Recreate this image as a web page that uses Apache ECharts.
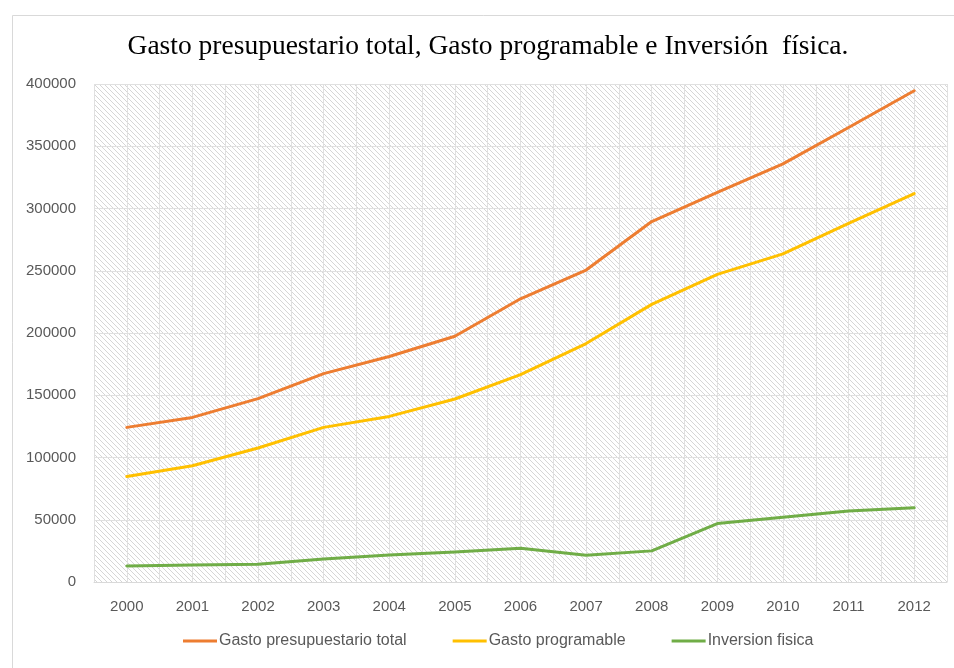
<!DOCTYPE html>
<html>
<head>
<meta charset="utf-8">
<script src="https://cdn.jsdelivr.net/npm/echarts@6/dist/echarts.min.js"></script>
<style>html,body{margin:0;padding:0;background:#fff}#c{width:954px;height:668px}</style>
</head>
<body>
<div id="c"></div>
<script>
var titleText = 'Gasto presupuestario total, Gasto programable e Inversión  física.';
var years = ['2000','2001','2002','2003','2004','2005','2006','2007','2008','2009','2010','2011','2012'];
var gastoTotal = [124200, 132200, 147300, 167400, 181100, 197400, 227500, 250600, 289500, 313000, 335800, 365100, 394600];
var gastoProgramable = [84800, 93400, 107600, 124200, 133000, 147000, 166600, 191500, 223000, 247100, 263500, 288100, 312000];
var inversionFisica = [12900, 13700, 14300, 18500, 21700, 24100, 27100, 21500, 25000, 46900, 52100, 57100, 59600];
var seriesNames = ['Gasto presupuestario total', 'Gasto programable', 'Inversion fisica'];
var seriesColors = ['#ED7D31', '#FFC000', '#70AD47'];

// hatch pattern
var pc = document.createElement('canvas');
pc.width = 5; pc.height = 5;
var g = pc.getContext('2d');
g.fillStyle = '#ffffff'; g.fillRect(0,0,5,5);
g.strokeStyle = '#d6d6d6'; g.lineWidth = 1;
g.beginPath();
g.moveTo(-1,-1); g.lineTo(6,6);
g.moveTo(-1,4); g.lineTo(1,6);
g.moveTo(4,-1); g.lineTo(6,1);
g.stroke();

var chart = echarts.init(document.getElementById('c'), null, {renderer:'canvas'});
var dataSets = [gastoTotal, gastoProgramable, inversionFisica];
chart.setOption({
  animation: false,
  backgroundColor: '#ffffff',
  graphic: [{
    type: 'rect', left: 10, top: 13, shape: {width: 1000, height: 1000},
    style: {fill: 'none', stroke: '#d9d9d9', lineWidth: 1}, silent: true, z: -10
  }],
  title: {
    text: titleText, left: 483, top: 28, textAlign: 'center',
    textStyle: {fontFamily: 'Liberation Serif', fontSize: 27.5, fontWeight: 'normal', color: '#000'}
  },
  grid: {
    left: 94, right: 7, top: 84, bottom: 86, show: true,
    backgroundColor: {image: pc, repeat: 'repeat'}, borderWidth: 0
  },
  legend: {
    bottom: 14, left: 178,
    itemWidth: 34, itemHeight: 3, itemGap: 46,
    icon: 'rect',
    data: seriesNames,
    textStyle: {color: '#595959', fontSize: 16, fontFamily: 'Liberation Sans, sans-serif', padding: [0,0,0,-3]}
  },
  xAxis: [{
    type: 'category', data: years, boundaryGap: true,
    axisLine: {lineStyle: {color: '#d9d9d9', width: 1}},
    axisTick: {show: false},
    splitLine: {show: false},
    axisLabel: {color: '#595959', fontSize: 15, margin: 17, fontFamily: 'Liberation Sans, sans-serif'}
  }, {
    type: 'value', min: 0, max: 26, interval: 1, position: 'top',
    axisLine: {show: false}, axisTick: {show: false}, axisLabel: {show: false},
    splitLine: {show: true, lineStyle: {color: '#e0e0e0', width: 1}}
  }],
  yAxis: {
    type: 'value', min: 0, max: 400000, interval: 50000,
    axisLine: {show: false}, axisTick: {show: false},
    splitLine: {lineStyle: {color: '#e0e0e0', width: 1}},
    axisLabel: {color: '#595959', fontSize: 15, margin: 18, fontFamily: 'Liberation Sans, sans-serif',
      formatter: function(v){ return String(v); }}
  },
  series: dataSets.map(function(d, i){
    return {
      name: seriesNames[i], type: 'line', data: d, xAxisIndex: 0,
      symbol: 'none', smooth: false,
      lineStyle: {color: seriesColors[i], width: 3, cap: 'round', join: 'round'},
      itemStyle: {color: seriesColors[i]}
    };
  })
});
</script>
</body>
</html>
